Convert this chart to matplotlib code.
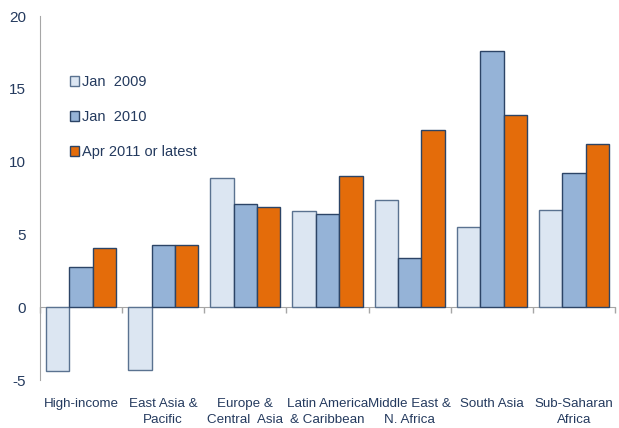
import matplotlib.pyplot as plt
import numpy as np

plt.rcParams['font.family'] = ['Liberation Sans', 'DejaVu Sans']
plt.rcParams['axes.unicode_minus'] = False

regions = ['High-income', 'East Asia &\nPacific', 'Europe &\nCentral  Asia',
           'Latin America\n& Caribbean', 'Middle East &\nN. Africa',
           'South Asia', 'Sub-Saharan\nAfrica']
jan2009 = [-4.4, -4.3, 8.9, 6.6, 7.4, 5.5, 6.7]
jan2010 = [2.8, 4.3, 7.1, 6.4, 3.4, 17.6, 9.2]
apr2011 = [4.1, 4.3, 6.9, 9.0, 12.2, 13.2, 11.2]

txt = '#243a5e'
edge = '#2c4466'

fig = plt.figure(figsize=(6.19, 4.28), dpi=100)
ax = fig.add_axes([0.0646, 0.112, 0.929, 0.8504])

x = np.arange(len(regions))
w = 0.285
ax.bar(x - w, jan2009, w, color='#dce6f2', edgecolor='#5a7290', lw=1, label='Jan  2009')
ax.bar(x, jan2010, w, color='#95b3d7', edgecolor=edge, lw=1, label='Jan  2010')
ax.bar(x + w, apr2011, w, color='#e46c0a', edgecolor=edge, lw=1, label='Apr 2011 or latest')

ax.set_xlim(-0.5, len(regions) - 0.5)
ax.set_ylim(-5, 20)
ax.set_yticks([-5, 0, 5, 10, 15, 20])
ax.tick_params(axis='y', length=0, pad=10, labelsize=11, labelcolor=txt)
ax.set_xticks(x)
ax.set_xticklabels(regions, linespacing=1.45)
ax.tick_params(axis='x', length=0, pad=13, labelsize=9.6, labelcolor=txt)

for s in ['top', 'right', 'bottom']:
    ax.spines[s].set_visible(False)
ax.spines['left'].set_color('#a6a6a6')

# zero line with group boundary ticks
zero = ax.secondary_xaxis(5 / 25)
zero.set_xticks(np.arange(len(regions) + 1) - 0.5)
zero.set_xticklabels([])
zero.tick_params(length=4, color='#a6a6a6', width=1)
zero.spines['bottom'].set_color('#a6a6a6')

leg = ax.legend(loc='upper left', bbox_to_anchor=(0.042, 0.853), frameon=False,
                fontsize=10.5, labelspacing=1.42, handlelength=0.65,
                handleheight=0.65, handletextpad=0.2, borderaxespad=0)
for t in leg.get_texts():
    t.set_color(txt)

fig.savefig('out.png', dpi=100)
